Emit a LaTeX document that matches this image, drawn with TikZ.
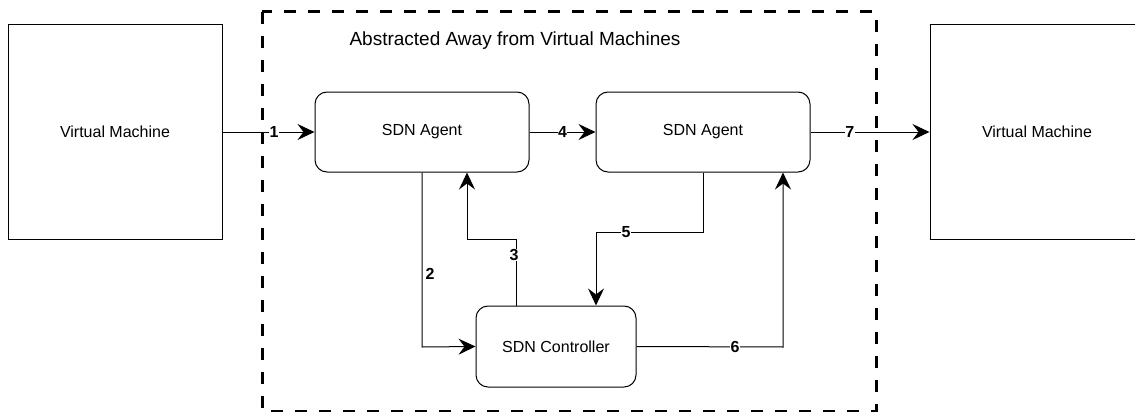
\documentclass[tikz,border=0pt]{standalone}
\usepackage{fontspec}
\setmainfont{Liberation Sans}
\usetikzlibrary{arrows.meta}
\begin{document}
\begin{tikzpicture}[x=1pt,y=-1pt,
  every node/.style={font=\fontsize{16}{19}\selectfont},
  vmbox/.style={draw, line width=1pt, minimum width=214pt, minimum height=214pt, inner sep=0pt},
  agentbox/.style={draw, line width=1pt, rounded corners=12pt, inner sep=0pt},
  conn/.style={line width=1pt, -{Stealth[length=17pt,width=16pt,inset=6pt]}},
  numlabel/.style={font=\bfseries\fontsize{16}{19}\selectfont, fill=white, inner sep=0.5pt},
  region/.style={line width=3pt, dash pattern=on 12pt off 12pt}
]
\useasboundingbox (0,0) rectangle (1135,412);
% dashed region
\draw[region] (262,12) rectangle (876,411);
\node[anchor=base west, font=\fontsize{19}{22}\selectfont] (title) at (346,46) {Abstracted Away from Virtual Machines};

% boxes
\node[vmbox] (vm1) at (115,132) {Virtual Machine};
\node[vmbox] (vm2) at (1037,132) {Virtual Machine};
\node[agentbox, minimum width=214pt, minimum height=80pt] (a1) at (422,132) {SDN Agent};
\node[agentbox, minimum width=214pt, minimum height=80pt] (a2) at (703,132) {SDN Agent};
\node[agentbox, minimum width=160pt, minimum height=81pt] (ctl) at (556,346.5) {SDN Controller};

% bend coordinates
\coordinate (c2) at (422,347);
\coordinate (c3a) at (516,239);
\coordinate (c3b) at (467,239);
\coordinate (c5a) at (703,232);
\coordinate (c5b) at (596,232);
\coordinate (c6) at (783,347);

% connectors
\draw[conn] (vm1.east) -- node[numlabel, pos=0.56] (l1) {1} (a1.west);
\draw[conn] (a1.east) -- node[numlabel, pos=0.5] (l4) {4} (a2.west);
\draw[conn] (a2.east) -- node[numlabel, pos=0.33] (l7) {7} (vm2.west);
\draw[conn] (a1.south) -- (c2) -- (ctl.west);
\node[font=\bfseries\fontsize{16}{19}\selectfont] (l2) at (430,274) {2};
\draw[conn] (ctl.north -| c3a) -- (c3a) -- (c3b) -- (a1.south -| c3b);
\node[numlabel] (l3) at (514,255) {3};
\draw[conn] (a2.south) -- (c5a) -- (c5b) -- (ctl.north -| c5b);
\node[numlabel] (l5) at (626,232) {5};
\draw[conn] (ctl.east) -- (c6) -- (a2.south -| c6);
\node[numlabel] (l6) at (735,347) {6};
\end{tikzpicture}
\end{document}
